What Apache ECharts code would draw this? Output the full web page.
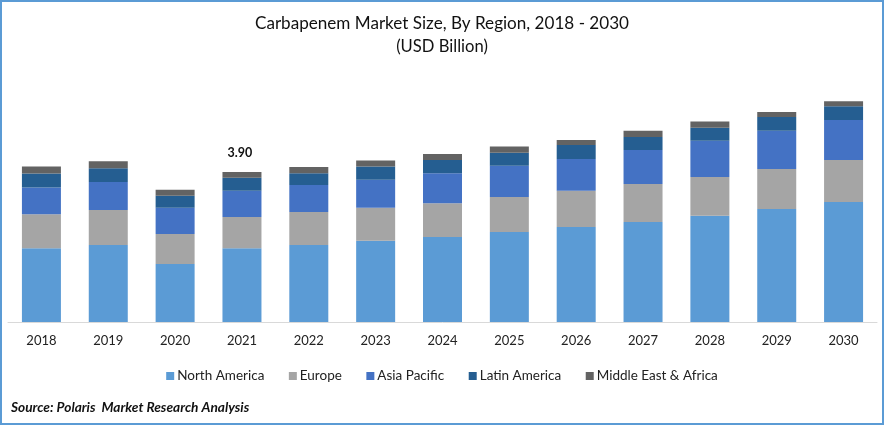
<!DOCTYPE html>
<html>
<head>
<meta charset="utf-8">
<title>Carbapenem Market Size</title>
<style>
  html, body { margin: 0; padding: 0; background: #fff; }
  #chart { width: 884px; height: 425px; }
</style>
<script src="https://cdn.jsdelivr.net/npm/echarts@6/dist/echarts.min.js"></script>
</head>
<body>
<div id="chart"></div>
<script>
const years = ['2018', '2019', '2020', '2021', '2022', '2023', '2024', '2025', '2026', '2027', '2028', '2029', '2030'];

// USD billion (2021 total is labelled 3.90)
const northAmerica = [1.92, 2.00, 1.51, 1.92, 2.00, 2.11, 2.21, 2.34, 2.47, 2.60, 2.76, 2.94, 3.12];
const europe = [0.88, 0.91, 0.78, 0.81, 0.86, 0.86, 0.88, 0.91, 0.94, 0.99, 1.01, 1.04, 1.09];
const asiaPacific = [0.70, 0.73, 0.68, 0.68, 0.70, 0.73, 0.78, 0.81, 0.83, 0.88, 0.94, 0.99, 1.04];
const latinAmerica = [0.36, 0.36, 0.31, 0.34, 0.31, 0.34, 0.34, 0.34, 0.36, 0.34, 0.34, 0.36, 0.36];
const middleEastAfrica = [0.18, 0.18, 0.16, 0.15, 0.16, 0.16, 0.16, 0.16, 0.13, 0.16, 0.16, 0.13, 0.13];

const seriesNames = ['North America', 'Europe', 'Asia Pacific', 'Latin America', 'Middle East & Africa'];
const seriesValues = [northAmerica, europe, asiaPacific, latinAmerica, middleEastAfrica];
const seriesColors = ['#5b9bd5', '#a5a5a5', '#4472c4', '#255e91', '#636363'];

const labelYear = '2021';
const labelText = '3.90';

const fontName = 'Lato';
const chart = echarts.init(document.getElementById('chart'), null, { renderer: 'canvas' });

chart.setOption({
  backgroundColor: '#fff',
  animation: false,
  textStyle: { fontFamily: fontName, color: '#1a1a1a' },
  title: [
    {
      text: 'Carbapenem Market Size, By Region, 2018 - 2030',
      left: 'center', top: 10,
      textStyle: { fontFamily: fontName, fontSize: 17.1, fontWeight: 'normal', color: '#111' }
    },
    {
      text: '(USD Billion)',
      left: 'center', top: 33,
      textStyle: { fontFamily: fontName, fontSize: 16.6, fontWeight: 'normal', color: '#111' }
    },
    {
      text: 'Source: Polaris  Market Research Analysis',
      left: 6, top: 396,
      textStyle: { fontFamily: fontName, fontSize: 13.7, fontWeight: 'bold', fontStyle: 'italic', color: '#111' }
    }
  ],
  legend: {
    data: seriesNames,
    left: 'center', top: 364,
    icon: 'rect', itemWidth: 8, itemHeight: 8, itemGap: 24.5,
    textStyle: { fontFamily: fontName, fontSize: 13.5, color: '#222', padding: [0, 0, 0, -2] }
  },
  grid: { left: 8, right: 7, top: 72, bottom: 103 },
  xAxis: {
    type: 'category',
    data: years,
    axisLine: { lineStyle: { color: '#d9d9d9', width: 1 } },
    axisTick: { show: false },
    axisLabel: { fontFamily: fontName, fontSize: 13, color: '#222', margin: 12 }
  },
  yAxis: { type: 'value', min: 0, max: 6.5, show: false },
  series: seriesNames.map((name, i) => ({
    name,
    type: 'bar',
    stack: 'total',
    barWidth: 39,
    itemStyle: { color: seriesColors[i] },
    data: seriesValues[i],
    // total label for one year only, sits on the top segment
    label: {
      show: i === seriesNames.length - 1,
      position: 'top',
      distance: 13,
      offset: [-2, 0],
      fontFamily: fontName,
      fontSize: 12.5,
      fontWeight: 'bold',
      color: '#111',
      formatter: p => (p.name === labelYear ? labelText : '')
    }
  })),
  // outer blue frame
  graphic: [{
    type: 'rect',
    silent: true,
    shape: { x: 1, y: 1, width: 882, height: 423 },
    style: { fill: 'none', stroke: '#5b9bd5', lineWidth: 2 }
  }]
});
</script>
</body>
</html>
